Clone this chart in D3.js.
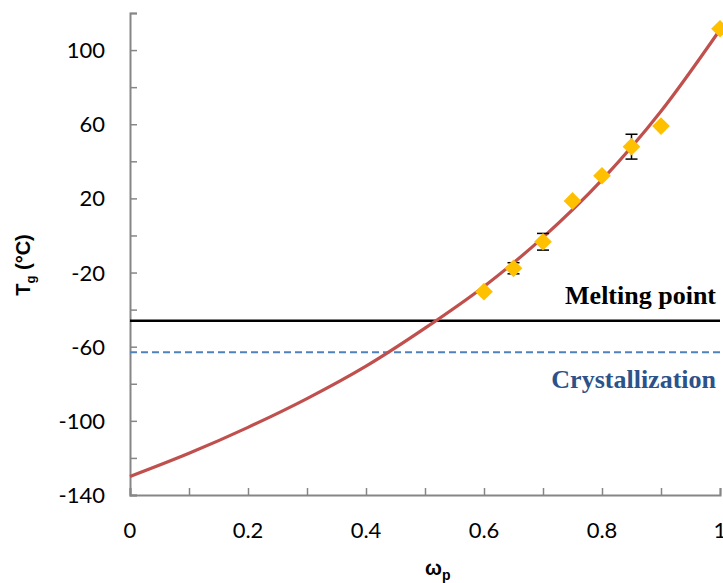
<!DOCTYPE html>
<html><head><meta charset="utf-8">
<script src="https://cdn.jsdelivr.net/npm/d3@7"></script>
<style>body{margin:0;background:#fff}</style></head>
<body><svg id="c" width="723" height="583"></svg>
<script>
// Fitted curve
const curveW = [0,0.1,0.2,0.3,0.4,0.5,0.6,0.7,0.8,0.9,1.0];
const curveTg = [-130,-117.5,-103.5,-88,-70.5,-50,-27.5,-1,30,67,111];
// Measured points
const ptW = [0.6,0.65,0.7,0.75,0.8,0.85,0.9,1.0];
const ptTg = [-30.3,-17.7,-3.4,18.6,32.2,47.9,59,111.5];
const ptErr = [0,3,4.5,0,0,6.7,0,0];
const meltingTg = -46;
const crystTg = -63;
const xTickLabels = [0,0.2,0.4,0.6,0.8,1];
const yTickLabels = [-140,-100,-60,-20,20,60,100];

const svg = d3.select("#c");
const x = d3.scaleLinear().domain([0,1]).range([130,720]);
const y = d3.scaleLinear().domain([-140,120]).range([495,13]);
const axisColor = "#868686";

// axes
const xa = svg.append("g").attr("transform","translate(0,495)")
  .call(d3.axisBottom(x).tickValues(d3.range(0,1.0001,0.1)).tickSize(-7).tickFormat(""));
const ya = svg.append("g").attr("transform","translate(130,0)")
  .call(d3.axisLeft(y).tickValues(d3.range(-140,121,20)).tickSize(-7).tickFormat(""));
[xa,ya].forEach(g=>{
  g.selectAll("path").attr("stroke",axisColor).attr("stroke-width",2);
  g.selectAll("line").attr("stroke",axisColor).attr("stroke-width",1.5);
});
svg.append("g").selectAll("text").data(xTickLabels).join("text")
  .attr("x",d=>x(d)).attr("y",538).attr("text-anchor","middle")
  .attr("font-family","Lato, 'Open Sans', sans-serif").attr("font-size",22)
  .text(d=>d);
svg.append("g").selectAll("text").data(yTickLabels).join("text")
  .attr("x",105).attr("y",d=>y(d)+8).attr("text-anchor","end")
  .attr("font-family","Lato, 'Open Sans', sans-serif").attr("font-size",22)
  .text(d=>d);

// axis titles
const yt = svg.append("text").attr("transform","translate(30,265) rotate(-90)")
  .attr("text-anchor","middle").attr("font-family","'Liberation Sans', Arial, sans-serif")
  .attr("font-weight","bold").attr("font-size",20);
yt.append("tspan").text("T");
yt.append("tspan").attr("font-size",13).attr("dy",5).text("g");
yt.append("tspan").attr("dy",-5).text(" (°C)");
const xt = svg.append("text").attr("x",425).attr("y",575)
  .attr("font-family","'Liberation Sans', Arial, sans-serif").attr("font-weight","bold").attr("font-size",20);
xt.append("tspan").text("ω");
xt.append("tspan").attr("font-size",14).attr("dy",5).text("p");

// reference lines
svg.append("line").attr("x1",x(0)).attr("x2",x(1)).attr("y1",y(meltingTg)).attr("y2",y(meltingTg))
  .attr("stroke","#000").attr("stroke-width",2.5);
svg.append("line").attr("x1",x(0)).attr("x2",x(1)).attr("y1",y(crystTg)).attr("y2",y(crystTg))
  .attr("stroke","#4F81BD").attr("stroke-width",2).attr("stroke-dasharray","7,4");

// curve
const line = d3.line().x((d,i)=>x(curveW[i])).y(d=>y(d)).curve(d3.curveMonotoneX);
svg.append("path").attr("d",line(curveTg)).attr("fill","none")
  .attr("stroke","#C0504D").attr("stroke-width",3.2);

// error bars
const eb = svg.append("g").attr("stroke","#000").attr("stroke-width",1.5);
ptW.forEach((w,i)=>{
  if(!ptErr[i]) return;
  const cx=x(w), y1=y(ptTg[i]+ptErr[i]), y2=y(ptTg[i]-ptErr[i]);
  eb.append("line").attr("x1",cx).attr("x2",cx).attr("y1",y1).attr("y2",y2);
  eb.append("line").attr("x1",cx-6).attr("x2",cx+6).attr("y1",y1).attr("y2",y1);
  eb.append("line").attr("x1",cx-6).attr("x2",cx+6).attr("y1",y2).attr("y2",y2);
});

// points (diamonds)
const sym = d3.symbol().type(d3.symbolDiamond2).size(200);
svg.append("g").selectAll("path").data(ptTg).join("path")
  .attr("d",sym).attr("transform",(d,i)=>`translate(${x(ptW[i])},${y(d)})`)
  .attr("fill","#FFC000");

// annotations
svg.append("text").attr("x",716).attr("y",304).attr("text-anchor","end")
  .attr("font-family","'Liberation Serif','Times New Roman',serif").attr("font-weight","bold")
  .attr("font-size",26).text("Melting point");
svg.append("text").attr("x",716).attr("y",388).attr("text-anchor","end")
  .attr("font-family","'Liberation Serif','Times New Roman',serif").attr("font-weight","bold")
  .attr("font-size",26).attr("fill","#2B5289").text("Crystallization");
</script></body></html>
